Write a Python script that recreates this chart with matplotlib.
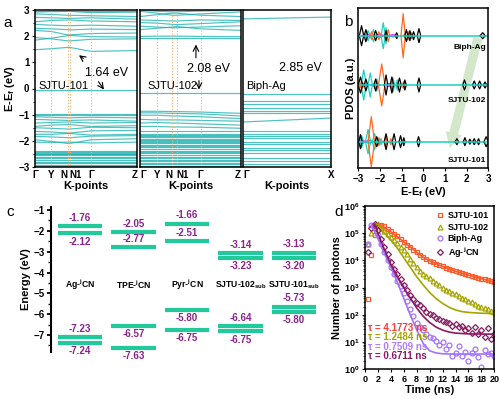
import numpy as np
import matplotlib
matplotlib.use('Agg')
import matplotlib.pyplot as plt

plt.rcParams['font.family'] = ['Liberation Sans', 'DejaVu Sans']
plt.rcParams['font.weight'] = 'bold'
plt.rcParams['axes.labelweight'] = 'bold'
plt.rcParams['mathtext.fontset'] = 'custom'
plt.rcParams['mathtext.rm'] = 'Liberation Sans'
plt.rcParams['mathtext.bf'] = 'Liberation Sans:bold'
plt.rcParams['mathtext.it'] = 'Liberation Sans:italic'
plt.rcParams['mathtext.default'] = 'bf'

# ---- a: band structures (energies at the k-points; scalar = flat band) --------------
KP_101 = [0, 0.156, 0.32, 0.34, 0.547, 1.0]
KL_101 = ['Γ', 'Y', 'N', 'N1', 'Γ', 'Z']
BANDS_101 = [
    [1.48, 1.52, 1.57, 1.57, 1.42, 1.45], [1.95, 1.90, 1.82, 1.82, 1.88, 1.90],
    [1.85, 1.92, 2.02, 2.03, 1.98, 1.97], [2.22, 2.18, 2.05, 2.05, 2.10, 2.12],
    [2.30, 2.28, 2.25, 2.24, 2.27, 2.25], [2.45, 2.42, 2.40, 2.40, 2.42, 2.38],
    [2.55, 2.60, 2.62, 2.62, 2.58, 2.55], [2.72, 2.70, 2.68, 2.68, 2.70, 2.65],
    [2.85, 2.83, 2.80, 2.80, 2.78, 2.75], [2.92, 2.94, 2.95, 2.95, 2.90, 2.92],
    2.97,
    -0.05, -0.98, -1.02,
    [-1.08, -1.10, -1.12, -1.12, -1.10, -1.12], [-1.18, -1.20, -1.22, -1.22, -1.20, -1.25],
    [-1.32, -1.30, -1.28, -1.28, -1.32, -1.30], [-1.45, -1.40, -1.38, -1.38, -1.45, -1.42],
    [-1.50, -1.52, -1.55, -1.55, -1.48, -1.50], [-1.64, -1.66, -1.70, -1.70, -1.62, -1.60],
    [-1.75, -1.75, -1.72, -1.72, -1.78, -1.75], [-1.83, -1.85, -1.88, -1.88, -1.82, -1.80],
    [-1.96, -2.02, -2.10, -2.10, -1.96, -1.92], [-2.05, -2.06, -2.05, -2.05, -2.08, -2.05],
    -2.38, -2.42, -2.45, -2.49, -2.52, -2.56, -2.60, -2.66, -2.73, -2.80, -2.86, -2.93, -2.98,
]
KP_102 = [0, 0.165, 0.32, 0.363, 0.6, 1.0]
KL_102 = ['Γ', 'Y', 'N', 'N1', 'Γ', 'Z']
BANDS_102 = [
    1.92, [1.99, 2.0, 2.0, 2.0, 1.99, 1.98],
    [2.25, 2.30, 2.35, 2.37, 2.28, 2.22], [2.38, 2.35, 2.32, 2.32, 2.35, 2.40],
    [2.52, 2.50, 2.45, 2.44, 2.48, 2.55], [2.62, 2.60, 2.58, 2.58, 2.62, 2.60],
    [2.75, 2.82, 2.88, 2.88, 2.80, 2.75], [2.95, 2.88, 2.80, 2.80, 2.85, 2.93],
    [3.0, 2.95, 2.93, 2.93, 2.96, 3.0],
    -0.19,
    [-0.87, -0.87, -0.88, -0.88, -0.90, -0.95], [-0.93, -0.93, -0.95, -0.95, -0.97, -1.05],
    [-1.02, -1.02, -1.05, -1.05, -1.08, -1.15], [-1.18, -1.20, -1.20, -1.20, -1.22, -1.25],
    [-1.32, -1.30, -1.32, -1.32, -1.35, -1.40], [-1.45, -1.45, -1.47, -1.47, -1.48, -1.52],
    -1.64, -1.72, -1.77, -1.82, -1.87, -1.92, -1.96, -2.00, -2.05, -2.10, -2.15, -2.20,
    -2.25, -2.30, -2.37, -2.42, -2.47, -2.53, -2.60, -2.66, -2.72, -2.78, -2.85, -2.90, -2.95,
]
KP_BIPH = [0, 1.0]
KL_BIPH = ['Γ', 'X']
BANDS_BIPH = [
    [2.66, 2.73],
    -0.22, -0.47, -0.61, -0.74, -0.86, -0.95, [-1.28, -1.13], -1.62, -1.73, -1.82, -1.90,
    -2.03, -2.13, -2.26, -2.35, -2.48, -2.64, -2.77, -2.90,
]

# ---- b: PDOS peaks (energy, height, half-width), mirrored spin up/down -------------
PDOS_NAMES = ['Biph-Ag', 'SJTU-102', 'SJTU-101']
PDOS_BASE = [132.3, 83.0, 26.3]
PDOS_BLACK = [
    [(-2.85, 10, .10), (-2.65, 6, .08), (-2.2, 5, .08), (-1.72, 5, .06), (-1.23, 3, .06),
     (-0.78, 6, .07), (-0.62, 5, .06), (-0.45, 4, .06), (-0.2, 7, .08), (2.74, 3, .12)],
    [(-2.9, 8, .10), (-2.65, 6, .08), (-2.2, 6, .08), (-1.72, 10, .08), (-1.45, 8, .08),
     (-1.1, 7, .08), (-0.85, 5, .06), (-0.2, 7, .08), (1.9, 5, .08), (2.35, 4, .08),
     (2.6, 4, .08), (2.85, 3, .08)],
    [(-2.9, 7, .08), (-2.15, 5, .08), (-1.72, 8, .08), (-1.35, 8, .08), (-1.05, 6, .07),
     (-0.9, 4, .05), (-0.22, 5, .07), (1.55, 3, .08), (1.92, 4, .07), (2.15, 2.5, .06),
     (2.35, 3, .07), (2.55, 3, .06), (2.9, 5, .10)],
]
PDOS_ORANGE = [
    [(-2.38, 4, .08), (-2.05, 4, .07), (-1.62, 6, .07), (-0.93, 22, .10), (-0.7, 4, .05)],
    [(-2.85, 4, .08), (-1.92, 21, .15), (-1.45, 4, .06), (-1.15, 3, .06), (-0.92, 3, .05)],
    [(-2.4, 25, .15), (-2.05, 4, .06), (-1.75, 5, .06), (-1.5, 3, .05)],
]
PDOS_TEAL = [
    [(-2.55, 5, .10), (-2.3, 6, .08), (-1.85, 13, .10), (-1.72, 8, .06), (-0.85, 3, .05),
     (-0.55, 3, .05)],
    [(-2.75, 15, .12), (-2.45, 12, .10), (-2.15, 6, .08), (-1.4, 7, .08), (-1.2, 5, .06)],
    [(-2.85, 6, .10), (-2.55, 12, .12), (-2.25, 8, .10), (-1.95, 3, .06)],
]
PDOS_MAGENTA = [
    [(-2.6, 1.5, .25), (-2.0, 1.5, .2), (-1.4, 1.2, .2)],
    [(-2.8, 2, .2), (-2.2, 1.5, .2), (-1.6, 1.5, .2)],
    [(-2.85, 2, .2), (-2.5, 1.5, .2)],
]

# ---- c: energy levels (eV) -----------------------------------------------------------
C_NAMES = ['Ag-$^{j}$CN', 'TPE-$^{j}$CN', 'Pyr-$^{j}$CN', 'SJTU-102$_{sub}$', 'SJTU-101$_{sub}$']
C_UP_HI = [-1.76, -2.05, -1.66, -3.14, -3.13]
C_UP_LO = [-2.12, -2.77, -2.51, -3.23, -3.20]
C_DN_HI = [-7.23, -6.57, -5.80, -6.64, -5.73]
C_DN_LO = [-7.24, -7.63, -6.75, -6.75, -5.80]

# ---- d: TRPL decays (log10 counts) -------------------------------------------------
T_DATA = [0.5 * i for i in range(1, 41)]
LOG_101 = [2.6, 4.2, 4.95, 5.25, 5.32, 5.25, 5.15, 5.07, 4.98, 4.88, 4.78, 4.68, 4.58, 4.5,
           4.4, 4.3, 4.2, 4.12, 4.04, 3.98, 3.93, 3.88, 3.83, 3.78, 3.74, 3.69, 3.65, 3.61,
           3.57, 3.53, 3.5, 3.47, 3.43, 3.4, 3.37, 3.33, 3.3, 3.27, 3.24, 3.21]
LOG_102 = [4.6, 5.0, 5.3, 5.33, 5.2, 5.08, 4.96, 4.85, 4.75, 4.63, 4.5, 4.38, 4.22, 4.05,
           3.9, 3.75, 3.6, 3.5, 3.42, 3.34, 3.26, 3.18, 3.1, 3.0, 2.93, 2.87, 2.8, 2.75,
           2.69, 2.63, 2.57, 2.52, 2.46, 2.4, 2.34, 2.3, 2.25, 2.2, 2.15, 2.1]
LOG_BIPH = [4.6, 5.3, 5.2, 4.95, 4.6, 4.3, 4.0, 3.75, 3.5, 3.25, 3.05, 2.8, 2.5, 2.2, 1.95,
            1.7, 1.55, 1.45, 1.3, 1.2, 1.15, 1.05, 0.9, 1.0, 0.75, 0.9, 0.5, 0.6, 0.85, 0.5,
            0.65, 0.3, 0.6, 0.75, 0.45, 0.1, 0.7, 0.55, 0.6, 0.5]
LOG_AG = [4.3, 5.2, 5.33, 5.1, 4.8, 4.5, 4.25, 3.95, 3.7, 3.5, 3.3, 3.1, 2.9, 2.72, 2.6,
          2.45, 2.35, 2.25, 2.12, 2.05, 1.98, 1.9, 1.85, 1.78, 1.72, 1.7, 1.6, 1.65, 1.55,
          1.6, 1.45, 1.5, 1.35, 1.55, 1.3, 1.45, 1.2, 1.5, 1.1, 1.3]
FIT_T_101 = [2.3, 3, 4, 5, 6, 7, 8, 9, 10, 12, 14, 16, 18, 20]
FIT_101 = [5.32, 5.22, 5.05, 4.87, 4.68, 4.5, 4.3, 4.12, 3.98, 3.78, 3.6, 3.46, 3.33, 3.2]
FIT_T_102 = [2, 3, 4, 5, 6, 7, 8, 9, 10, 11, 12, 13, 14, 15, 16, 18, 20]
FIT_102 = [5.33, 5.0, 4.75, 4.45, 4.1, 3.75, 3.4, 3.1, 2.82, 2.6, 2.42, 2.28, 2.18, 2.12,
           2.09, 2.06, 2.05]
FIT_T_BIPH = [1, 2, 3, 4, 5, 6, 7, 8, 9, 10, 11, 12, 14, 20]
FIT_BIPH = [5.3, 4.8, 4.25, 3.75, 3.2, 2.6, 2.0, 1.45, 0.95, 0.68, 0.6, 0.57, 0.56, 0.56]
FIT_T_AG = [1.5, 2, 3, 4, 5, 6, 7, 8, 9, 10, 11, 12, 13, 14, 16, 20]
FIT_AG = [5.33, 5.0, 4.4, 3.85, 3.4, 3.0, 2.62, 2.25, 1.95, 1.72, 1.55, 1.44, 1.37, 1.33,
          1.3, 1.29]
TAUS = ['4.1773', '1.2484', '0.7509', '0.6711']
D_NAMES = ['SJTU-101', 'SJTU-102', 'Biph-Ag', 'Ag-$^{j}$CN']

W, H = 500, 399
fig = plt.figure(figsize=(W / 100, H / 100), dpi=100)
px = lambda l, t, r, b: [l / W, 1 - b / H, (r - l) / W, (b - t) / H]

TEAL = '#22b2b2'
ORANGE_DOT = '#f7b06a'


def band_panel(rect, kp, kl, bands, first, last):
    a = fig.add_axes(rect)
    for bd in bands:
        e = np.broadcast_to(np.asarray(bd, float), (len(kp),))
        a.plot(kp, e, color=TEAL, lw=0.85, alpha=0.8)
    for k in kp[1:-1]:
        a.axvline(k, color=ORANGE_DOT, ls=(0, (1, 1.6)), lw=0.8)
    a.set_xlim(0, 1); a.set_ylim(-3, 3)
    a.set_xticks(kp)
    labs = a.set_xticklabels(kl, fontsize=7)
    for i, t in enumerate(labs):
        if kl[i] == 'N' and 'N1' in kl:
            t.set_ha('right')
        elif kl[i] == 'N1':
            t.set_ha('left')
    if not first:
        labs[0].set_ha('left')
    if not last:
        labs[-1].set_ha('right')
    a.tick_params(axis='x', length=0, pad=2)
    a.set_xlabel('K-points', fontsize=8, labelpad=1)
    if first:
        a.set_yticks(range(-3, 4))
        a.set_yticks(np.arange(-3, 3.01, 0.5), minor=True)
        a.tick_params(axis='y', labelsize=7, length=2.5, width=0.8, pad=1.5)
        a.tick_params(axis='y', which='minor', length=1.5, width=0.6)
        a.set_ylabel('E-E$_{f}$ (eV)', fontsize=8, labelpad=1)
    else:
        a.set_yticks([])
    for s in a.spines.values():
        s.set_linewidth(1.1)
    return a


a1 = band_panel(px(35, 10, 137.3, 167), KP_101, KL_101, BANDS_101, True, False)
a2 = band_panel(px(140, 10, 241, 167), KP_102, KL_102, BANDS_102, False, False)
a3 = band_panel(px(243, 10, 331, 167), KP_BIPH, KL_BIPH, BANDS_BIPH, False, True)

arr = dict(arrowstyle='->', lw=0.8, color='k', shrinkA=0, shrinkB=0)
a1.annotate('', xy=(0.43, 1.27), xytext=(0.472, 1.15), arrowprops=arr)
a1.annotate('', xy=(0.674, -0.04), xytext=(0.62, 0.26), arrowprops=arr)
a1.text(0.70, 0.6, '1.64 eV', fontsize=9, weight='normal', ha='center', va='center')
a1.text(0.03, 0.11, 'SJTU-101', fontsize=8, weight='normal', ha='left', va='center')
a2.annotate('', xy=(0.554, 1.68), xytext=(0.554, 1.17), arrowprops=arr)
a2.annotate('', xy=(0.584, -0.04), xytext=(0.584, 0.3), arrowprops=arr)
a2.text(0.676, 0.76, '2.08 eV', fontsize=9, weight='normal', ha='center', va='center')
a2.text(0.076, 0.11, 'SJTU-102', fontsize=8, weight='normal', ha='left', va='center')
a3.text(0.65, 0.79, '2.85 eV', fontsize=9, weight='normal', ha='center', va='center')
a3.text(0.04, 0.09, 'Biph-Ag', fontsize=8, weight='normal', ha='left', va='center')

# ---- b ----------------------------------------------------------------------------
b = fig.add_axes(px(358.3, 8, 488.3, 168))
b.annotate('', xy=(1.23, 20), xytext=(2.52, 130),
           arrowprops=dict(arrowstyle='simple,head_width=1.1,head_length=1.0,tail_width=0.6',
                           color='#cfe6c6', alpha=0.9, lw=0, shrinkA=0, shrinkB=0,
                           mutation_scale=11), zorder=0)
for i, base in enumerate(PDOS_BASE):
    for peaks, col in ((PDOS_MAGENTA[i], '#c23cff'), (PDOS_TEAL[i], '#1fd0c0'),
                       (PDOS_ORANGE[i], '#ff6a1e'), (PDOS_BLACK[i], 'k')):
        for e, h, w in peaks:
            b.plot([e - w, e, e + w, e, e - w], [base, base + h, base, base - h, base],
                   color=col, lw=0.9)
    b.axhline(base, color='#1fd0c0', lw=1.1)
    b.text(2.89, base - [12, 16, 18.5][i], PDOS_NAMES[i], fontsize=6, ha='right', va='center')
b.set_xlim(-3, 3); b.set_ylim(0, 160)
b.set_xticks(range(-3, 4)); b.set_yticks([])
b.tick_params(axis='x', labelsize=7, length=2.5, width=0.8, pad=1.5)
b.set_xlabel('E-E$_{f}$ (eV)', fontsize=8, labelpad=1)
b.set_ylabel('PDOS (a.u.)', fontsize=8, labelpad=2)
for s in b.spines.values():
    s.set_linewidth(1.1)

# ---- c ----------------------------------------------------------------------------
c = fig.add_axes(px(51, 206.7, 320, 351.7))
BAR = '#22c99a'
PURPLE = '#8e1f8e'


def spread(hi, lo, gap=0.25):
    if hi - lo >= gap:
        return hi, lo
    m = (hi + lo) / 2
    return m + gap / 2, m - gap / 2


for i in range(len(C_NAMES)):
    for hi, lo, upper in ((C_UP_HI[i], C_UP_LO[i], True), (C_DN_HI[i], C_DN_LO[i], False)):
        yh, yl = spread(hi, lo)
        c.hlines([yh, yl], i - 0.42, i + 0.42, color=BAR, lw=3)
        wide = hi - lo > 0.5
        c.annotate(f'{hi:.2f}', (i, yh), xytext=(0, -6 if (wide and not upper) else 6),
                   textcoords='offset points', ha='center', va='center',
                   fontsize=7, color=PURPLE)
        c.annotate(f'{lo:.2f}', (i, yl), xytext=(0, 6 if (wide and upper) else -6),
                   textcoords='offset points', ha='center', va='center',
                   fontsize=7, color=PURPLE)
    c.text(i, -4.6, C_NAMES[i], fontsize=6.2, ha='center', va='center', clip_on=True)
c.set_xlim(-0.542, 4.486); c.set_ylim(-7.8, -0.84)
c.set_yticks(range(-7, 0))
c.set_yticks(np.arange(-7.5, -0.9, 0.5), minor=True)
c.set_xticks([])
c.tick_params(axis='y', labelsize=7, length=3, width=1.3, pad=1.5)
c.tick_params(axis='y', which='minor', length=2, width=1.0)
c.set_ylabel('Energy (eV)', fontsize=8, labelpad=2)
for k in ('top', 'right', 'bottom'):
    c.spines[k].set_visible(False)
c.spines['left'].set_linewidth(1.5)

# ---- d ----------------------------------------------------------------------------
d = fig.add_axes(px(365, 206, 494.3, 369.3))
D_COLS = ['#ff5a2a', '#a5a500', '#a472ff', '#8b1a62']
D_MARK = ['s', '^', 'o', 'D']
D_LOGS = [LOG_101, LOG_102, LOG_BIPH, LOG_AG]
D_FITS = [(FIT_T_101, FIT_101), (FIT_T_102, FIT_102), (FIT_T_BIPH, FIT_BIPH),
          (FIT_T_AG, FIT_AG)]
for name, col, mk, lg in zip(D_NAMES, D_COLS, D_MARK, D_LOGS):
    d.plot(T_DATA, 10 ** np.array(lg), mk, mfc='none', mec=col, mew=0.9,
           ms=3.5 if mk != 'D' else 3.0, ls='none', label=name)
for (ft, fv), col in zip(D_FITS, D_COLS):
    d.plot(ft, 10 ** np.array(fv), color=col, lw=1.2)
d.set_yscale('log')
d.set_xlim(0, 20); d.set_ylim(1, 1e6)
d.set_xticks(range(0, 21, 2))
d.set_yticks([10 ** k for k in range(7)])
d.tick_params(axis='both', labelsize=6.5, length=2.5, width=0.8, pad=1.5)
d.tick_params(axis='y', which='minor', length=1.5, width=0.5)
d.set_xlabel('Time (ns)', fontsize=8, labelpad=1)
d.set_ylabel('Number of photons', fontsize=8, labelpad=1)
d.legend(loc='upper right', frameon=False, fontsize=6.5, handletextpad=0.3,
         labelspacing=0.25, borderaxespad=0.2, handlelength=1.2)
TAU_COLS = ['#ff3a3a', '#a5a500', '#b07cff', '#8b1a62']
for k, (tau, col, ly) in enumerate(zip(TAUS, TAU_COLS, [1.53, 1.195, 0.83, 0.49])):
    d.text(0.4, 10 ** ly, f'τ = {tau} ns', color=col, fontsize=7, ha='left', va='center')
for s in d.spines.values():
    s.set_linewidth(1.1)

for lab, x, y in (('a', 8, 23), ('b', 348, 22), ('c', 10, 212), ('d', 339, 212)):
    fig.text(x / W, 1 - y / H, lab, fontsize=11, weight='normal', ha='center', va='center')

fig.savefig('out.png', dpi=100, facecolor='white')
